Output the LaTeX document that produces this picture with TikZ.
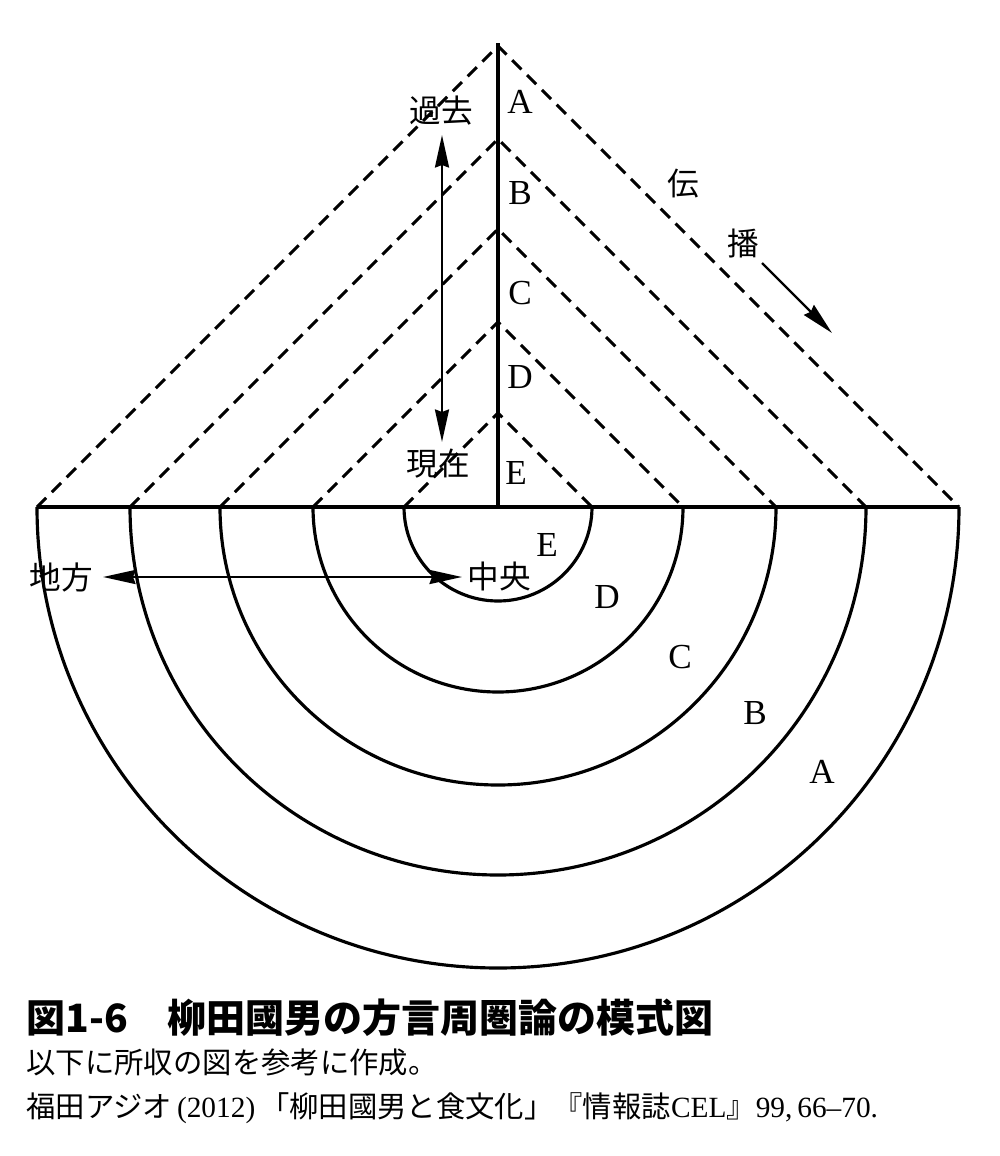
\documentclass[tikz,border=0pt]{standalone}
\usepackage{fontspec}
\setmainfont{Liberation Serif}
\newfontfamily\jp{Noto Sans CJK JP}
\usetikzlibrary{arrows.meta}

\begin{document}
\begin{tikzpicture}[x=0.2mm, y=-0.2mm, line width=1.8pt,
    >={Stealth[length=6.5mm,width=2.8mm,inset=0.5mm]},
    zone/.style={line width=1.8pt},
    wave/.style={line width=1.7pt, dash pattern=on 2.6mm off 1.6mm},
    axis/.style={line width=2.7pt},
    dirarrow/.style={line width=1.4pt},
    jplabel/.style={font=\jp\fontsize{18}{20}\selectfont, inner sep=0pt},
    zlabel/.style={font=\fontsize{20}{22}\selectfont, inner sep=0pt}
]
\useasboundingbox (0,0) rectangle (1000,1156);
% --- Mittelpunkt ---
\coordinate (O) at (498,507);
% --- Kreise und Ausbreitungslinien ---
\foreach \r in {94,185,278,368,461} {
  \draw[wave] (498-\r,507) -- (498,507-\r) -- (498+\r,507);  % Welle
  \draw[zone] (498-\r,507) arc[start angle=180, end angle=360, radius=\r*0.2mm];  % Zone
}
\draw[zone] (37,507) -- (959,507);  % Grundlinie
\draw[axis] (O) -- (498,43);        % Zeitachse
% --- Zeitachse: Zonen ---
\node[zlabel] (tA) at (520,102) {A};
\node[zlabel] (tB) at (520,193) {B};
\node[zlabel] (tC) at (520,293) {C};
\node[zlabel] (tD) at (520,377) {D};
\node[zlabel] (tE) at (516,473) {E};
% --- Raum: Zonen ---
\node[zlabel] (sE) at (547,545) {E};
\node[zlabel] (sD) at (607,597) {D};
\node[zlabel] (sC) at (680,657) {C};
\node[zlabel] (sB) at (755,713) {B};
\node[zlabel] (sA) at (822,772) {A};
% --- Vergangenheit / Gegenwart ---
\node[jplabel] (kako) at (441,111) {過去};
\node[jplabel] (genzai) at (438,464) {現在};
\coordinate (kakoTip) at (442,135);
\coordinate (genzaiTip) at (442,442);
\draw[dirarrow, <->] (kakoTip) -- (genzaiTip);
% --- Land / Zentrum ---
\node[jplabel] (chiho) at (61,577) {地方};
\node[jplabel] (chuo) at (499,576) {中央};
\coordinate (chihoTip) at (103,577);
\coordinate (chuoTip) at (462,577);
\draw[dirarrow, <->] (chihoTip) -- (chuoTip);
% --- Ausbreitung ---
\node[jplabel] (den) at (683,184) {伝};
\node[jplabel] (pa) at (743,244) {播};
\coordinate (paFrom) at (762,263);
\coordinate (paTo) at (832,333);
\draw[dirarrow, ->] (paFrom) -- (paTo);
% --- Bildunterschrift ---
\node[anchor=west, inner sep=0pt, font=\jp\bfseries\fontsize{22.2}{26}\selectfont] (title) at (25,1018) {図1-6　柳田國男の方言周圏論の模式図};
\node[anchor=west, inner sep=0pt, font=\jp\fontsize{16.7}{20}\selectfont] (note) at (25,1062) {以下に所収の図を参考に作成。};
\node[anchor=west, inner sep=0pt, font=\fontsize{16.7}{20}\selectfont] (source) at (25,1108) {{\jp 福田アジオ}\,(2012)\,{\jp 「柳田國男と食文化」『情報誌}CEL{\jp 』}99,\,66--70.};
\end{tikzpicture}
\end{document}
